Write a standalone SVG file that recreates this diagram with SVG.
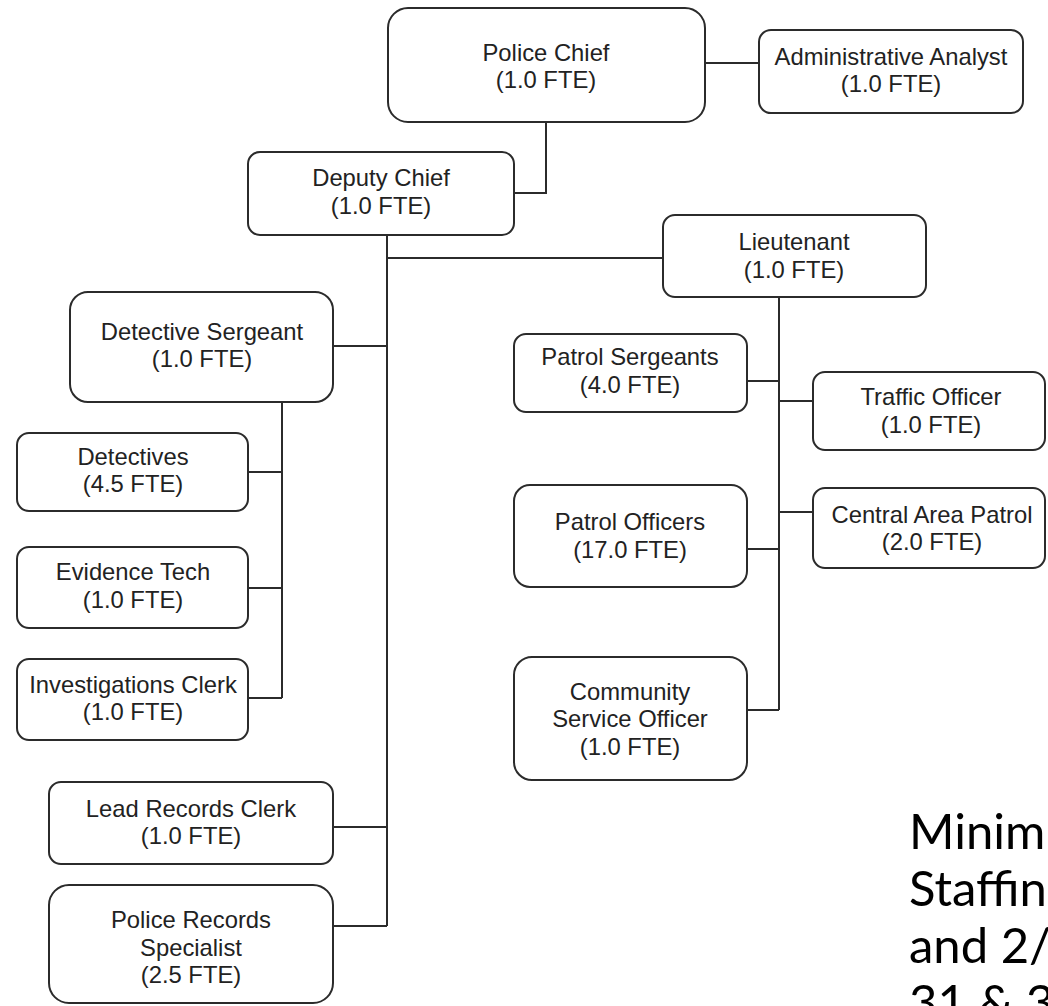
<svg xmlns="http://www.w3.org/2000/svg" width="1048" height="1006" viewBox="0 0 1048 1006">
<style>
.box{fill:#fff;stroke:#2b2b2b;stroke-width:2}
.t{font-family:"Liberation Sans",Arial,sans-serif;font-size:23.8px;fill:#222;text-anchor:middle}
.ln{fill:none;stroke:#2b2b2b;stroke-width:2}
.big{font-family:Lato,"Open Sans",sans-serif;font-size:49px;fill:#000}
</style>
<rect width="1048" height="1006" fill="#fff"/>
<g id="connectors">
<path class="ln" d="M705 63H759"/>
<path class="ln" d="M546 122V193H514"/>
<path class="ln" d="M387 235V926"/>
<path class="ln" d="M387 258H663"/>
<path class="ln" d="M333 346H387"/>
<path class="ln" d="M333 827H387"/>
<path class="ln" d="M333 926H387"/>
<path class="ln" d="M282 402V698"/>
<path class="ln" d="M248 472H282"/>
<path class="ln" d="M248 588H282"/>
<path class="ln" d="M248 698H282"/>
<path class="ln" d="M779 297V710"/>
<path class="ln" d="M747 381H779"/>
<path class="ln" d="M779 401H813"/>
<path class="ln" d="M779 512H813"/>
<path class="ln" d="M747 549H779"/>
<path class="ln" d="M747 710H779"/>
</g>
<g id="police-chief"><rect class="box" x="388" y="8" width="317" height="114" rx="20"/><text class="t" x="546" y="61">Police Chief</text><text class="t" x="546" y="88">(1.0 FTE)</text></g>
<g id="admin-analyst"><rect class="box" x="759" y="30" width="264" height="83" rx="12"/><text class="t" x="891" y="65">Administrative Analyst</text><text class="t" x="891" y="92">(1.0 FTE)</text></g>
<g id="deputy-chief"><rect class="box" x="248" y="152" width="266" height="83" rx="12"/><text class="t" x="381" y="186">Deputy Chief</text><text class="t" x="381" y="214">(1.0 FTE)</text></g>
<g id="lieutenant"><rect class="box" x="663" y="215" width="263" height="82" rx="12"/><text class="t" x="794" y="250">Lieutenant</text><text class="t" x="794" y="278">(1.0 FTE)</text></g>
<g id="detective-sergeant"><rect class="box" x="70" y="292" width="263" height="110" rx="18"/><text class="t" x="202" y="340">Detective Sergeant</text><text class="t" x="202" y="367">(1.0 FTE)</text></g>
<g id="detectives"><rect class="box" x="17" y="433" width="231" height="78" rx="12"/><text class="t" x="133" y="465">Detectives</text><text class="t" x="133" y="492">(4.5 FTE)</text></g>
<g id="evidence-tech"><rect class="box" x="17" y="547" width="231" height="81" rx="12"/><text class="t" x="133" y="580">Evidence Tech</text><text class="t" x="133" y="608">(1.0 FTE)</text></g>
<g id="investigations-clerk"><rect class="box" x="17" y="659" width="231" height="81" rx="12"/><text class="t" x="133" y="693">Investigations Clerk</text><text class="t" x="133" y="720">(1.0 FTE)</text></g>
<g id="lead-records-clerk"><rect class="box" x="49" y="782" width="284" height="82" rx="12"/><text class="t" x="191" y="817">Lead Records Clerk</text><text class="t" x="191" y="844">(1.0 FTE)</text></g>
<g id="police-records-specialist"><rect class="box" x="49" y="885" width="284" height="118" rx="20"/><text class="t" x="191" y="928">Police Records</text><text class="t" x="191" y="956">Specialist</text><text class="t" x="191" y="983">(2.5 FTE)</text></g>
<g id="patrol-sergeants"><rect class="box" x="514" y="334" width="233" height="78" rx="12"/><text class="t" x="630" y="365">Patrol Sergeants</text><text class="t" x="630" y="393">(4.0 FTE)</text></g>
<g id="traffic-officer"><rect class="box" x="813" y="372" width="232" height="78" rx="12"/><text class="t" x="931" y="405">Traffic Officer</text><text class="t" x="931" y="433">(1.0 FTE)</text></g>
<g id="central-area-patrol"><rect class="box" x="813" y="488" width="232" height="80" rx="12"/><text class="t" x="932" y="523">Central Area Patrol</text><text class="t" x="932" y="550">(2.0 FTE)</text></g>
<g id="patrol-officers"><rect class="box" x="514" y="485" width="233" height="102" rx="16"/><text class="t" x="630" y="530">Patrol Officers</text><text class="t" x="630" y="558">(17.0 FTE)</text></g>
<g id="community-service-officer"><rect class="box" x="514" y="657" width="233" height="123" rx="18"/><text class="t" x="630" y="700">Community</text><text class="t" x="630" y="727">Service Officer</text><text class="t" x="630" y="755">(1.0 FTE)</text></g>
<g id="note">
<text class="big" x="909" y="849">Minim</text>
<text class="big" x="909" y="906">Staffin</text>
<text class="big" x="909" y="963">and 2/</text>
<text class="big" x="909" y="1020">31 &amp; 3</text>
</g>
</svg>
